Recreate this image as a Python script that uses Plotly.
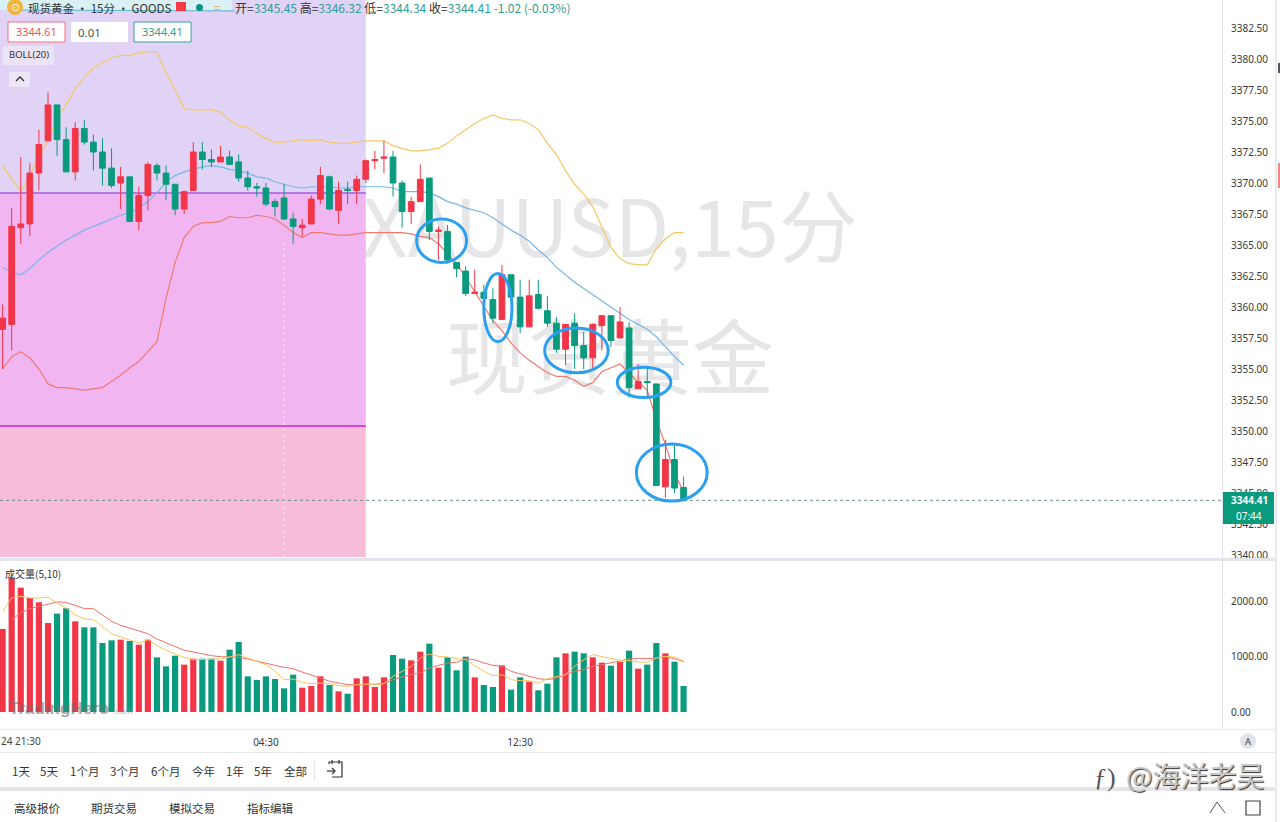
import plotly.graph_objects as go

W, H = 1280, 822

# ---------- data ----------
candle_top = [3359.1,3366.5,3366.7,3370.8,3373.1,3376.3,3376.3,3373.5,3374.4,3374.4,3373.3,3372.5,3371.2,3370.5,3370.5,3369.0,3371.5,3371.4,3370.8,3369.9,
 3369.3,3372.5,3372.5,3371.9,3372.1,3372.1,3371.7,3370.4,3369.7,3369.6,3368.5,3368.8,3367.1,3366.6,3368.7,3370.6,3370.5,3369.4,3369.5,3370.3,
 3371.8,3371.9,3372.1,3372.1,3370.0,3368.5,3370.3,3370.4,3366.2,3366.1,3363.6,3362.9,3361.2,3361.2,3360.6,3362.6,3362.6,3360.8,3360.9,3361.0,
 3359.7,3358.7,3358.6,3358.7,3356.9,3358.6,3359.3,3359.3,3358.8,3358.3,3354.0,3354.0,3353.8,3347.7,3347.7,3345.45]
candle_bottom = [3358.2,3358.6,3366.4,3366.7,3370.8,3373.4,3373.5,3370.9,3370.9,3373.3,3372.5,3371.2,3369.8,3370.0,3366.9,3366.9,3369.0,3370.8,3369.9,3367.9,
 3367.9,3369.4,3371.9,3371.7,3371.7,3371.5,3370.4,3369.7,3369.6,3368.3,3368.1,3367.1,3366.5,3366.4,3366.7,3368.7,3367.9,3367.8,3369.4,3369.4,
 3370.3,3371.8,3372.0,3370.0,3367.7,3367.7,3368.5,3366.1,3366.1,3363.8,3363.1,3361.1,3361.1,3360.7,3359.1,3359.0,3360.8,3358.4,3358.4,3359.9,
 3358.7,3356.6,3356.6,3356.9,3355.9,3355.9,3358.5,3357.3,3357.5,3353.5,3353.4,3353.9,3345.6,3345.5,3345.4,3344.41]
candle_high = [3360.2,3368.0,3372.1,3371.6,3374.3,3377.3,3376.3,3374.5,3374.9,3375.1,3373.9,3373.6,3372.8,3371.3,3370.5,3369.7,3371.7,3371.6,3371.4,3369.9,
 3369.4,3373.3,3373.3,3372.7,3373.0,3372.6,3372.3,3371.0,3370.0,3370.0,3368.7,3369.9,3367.6,3367.1,3369.0,3371.3,3370.6,3370.1,3370.1,3370.6,
 3371.9,3372.6,3373.4,3372.6,3370.2,3368.9,3371.5,3370.4,3366.5,3366.6,3363.6,3363.3,3363.0,3361.8,3361.5,3363.4,3362.6,3362.2,3362.2,3362.2,
 3360.9,3359.2,3358.6,3359.5,3358.0,3358.7,3359.3,3359.3,3360.0,3358.8,3355.4,3355.2,3353.8,3349.3,3348.9,3346.32]
candle_low = [3355.0,3356.5,3365.1,3365.7,3369.4,3373.4,3372.2,3370.9,3370.2,3373.1,3371.0,3369.8,3369.6,3367.9,3366.9,3366.2,3367.8,3370.2,3368.6,3367.4,
 3367.5,3369.4,3371.1,3371.3,3371.7,3371.5,3370.1,3369.4,3368.9,3368.1,3367.3,3367.0,3365.1,3365.7,3366.7,3368.3,3367.8,3366.7,3368.3,3368.3,
 3370.0,3371.1,3370.8,3368.9,3366.4,3366.7,3368.5,3365.4,3363.8,3363.5,3362.4,3360.9,3361.1,3360.7,3358.7,3359.0,3360.8,3357.9,3358.4,3359.8,
 3358.4,3356.3,3355.3,3355.0,3355.0,3355.0,3356.5,3356.8,3357.5,3352.7,3353.4,3352.8,3345.6,3344.6,3345.0,3344.34]
candle_up = [1,1,1,1,1,1,0,0,1,0,0,0,0,1,0,1,1,0,0,0,
 1,1,0,0,1,0,0,0,0,0,0,0,0,1,1,1,0,1,0,1,
 1,1,1,0,0,1,1,0,1,0,0,0,1,0,0,1,0,0,1,0,
 0,0,1,0,0,1,1,0,1,0,1,0,0,1,0,0]

boll_upper = [3371.4,3370.4,3369.3,3370.6,3372.2,3373.4,3375.2,3376.3,3377.6,3378.5,3379.3,3379.7,3380.1,3380.3,3380.3,3380.5,3380.6,3380.6,3378.9,3377.5,
 3376.0,3375.9,3375.9,3375.9,3375.7,3375.1,3374.6,3374.5,3374.0,3373.6,3373.3,3373.3,3373.4,3373.5,3373.4,3373.5,3373.3,3373.2,3373.2,3373.3,
 3373.4,3373.4,3373.4,3373.0,3372.8,3372.6,3372.6,3372.7,3372.8,3373.2,3373.8,3374.3,3374.8,3375.2,3375.5,3375.2,3375.1,3375.1,3374.8,3374.3,
 3373.2,3372.3,3371.0,3369.9,3369.1,3368.1,3366.4,3364.8,3363.9,3363.5,3363.4,3363.4,3364.7,3365.5,3366.0,3366.0]
boll_mid = [3363.2,3362.8,3362.6,3363.1,3363.8,3364.4,3364.9,3365.4,3365.8,3366.2,3366.5,3366.8,3367.1,3367.4,3367.6,3368.0,3368.5,3369.2,3370.1,3370.6,
 3370.9,3371.1,3371.3,3371.4,3371.3,3371.1,3371.0,3370.8,3370.5,3370.4,3370.1,3369.9,3369.7,3369.6,3369.7,3369.7,3369.7,3369.6,3369.6,3369.7,
 3369.7,3369.7,3369.7,3369.6,3369.3,3369.3,3369.3,3369.2,3368.9,3368.5,3368.3,3368.0,3367.8,3367.6,3367.2,3366.7,3366.2,3365.8,3365.3,3364.6,
 3364.0,3363.2,3362.6,3362.0,3361.5,3361.0,3360.5,3360.0,3359.5,3359.0,3358.6,3358.2,3357.6,3356.8,3356.0,3355.3]
boll_lower = [3355.0,3356.0,3356.4,3355.9,3355.0,3353.8,3353.5,3353.5,3353.4,3353.3,3353.4,3353.5,3354.0,3354.5,3355.1,3355.6,3356.4,3357.2,3360.7,3363.6,
 3365.6,3366.5,3366.8,3366.8,3366.9,3367.3,3367.2,3367.2,3367.4,3367.3,3367.1,3366.6,3366.0,3365.6,3366.0,3366.0,3365.9,3365.8,3365.8,3365.9,
 3366.0,3366.0,3366.0,3366.0,3366.0,3365.9,3365.7,3365.6,3365.1,3364.3,3363.5,3362.4,3361.2,3360.0,3358.9,3358.1,3357.1,3356.3,3355.7,3355.2,
 3354.7,3354.4,3354.4,3354.1,3353.6,3353.9,3354.8,3355.1,3355.4,3354.7,3353.9,3353.3,3350.9,3348.9,3346.6,3345.1]

volume = [1509,2436,2260,2073,1994,1618,1788,1885,1648,1539,1539,1254,1303,1315,1291,1224,1315,994,830,1024,
 861,970,970,970,933,1133,1273,648,582,648,600,430,679,442,473,648,491,376,333,612,
 648,455,630,1036,970,939,1097,1242,806,994,758,1006,630,491,455,848,406,630,551,394,
 515,994,1067,1097,1067,994,897,842,909,1115,788,861,1254,1067,915,473]
vol_ma5 = [1830,2073,2103,2073,2073,2085,1982,1891,1770,1691,1679,1557,1424,1364,1303,1254,1315,1206,1121,1054,
 994,951,951,964,964,1000,1042,982,921,861,739,588,600,539,515,527,515,479,467,497,
 509,497,515,648,739,830,982,1054,1012,1000,970,951,842,739,661,679,588,570,570,527,
 606,636,679,830,951,1042,1012,976,939,933,909,903,982,1012,1000,921]
vol_ma10 = [None,1679,1800,1879,1921,1970,2000,1994,1939,1879,1879,1770,1648,1576,1521,1479,1424,1327,1254,1182,
 1121,1091,1054,1024,1006,1000,994,964,921,891,848,812,788,727,679,618,558,521,497,491,
 497,497,515,588,636,679,709,800,848,891,903,970,951,891,848,830,739,697,661,606,
 588,618,679,739,770,830,861,891,933,964,976,970,982,1000,970,915]

price_ticks = [3340,3342.5,3345,3347.5,3350,3352.5,3355,3357.5,3360,3362.5,3365,3367.5,3370,3372.5,3375,3377.5,3380,3382.5]
volume_ticks = [0,1000,2000]
time_ticks = [29,57]
time_labels = ["04:30","12:30"]
range_buttons = ["1天","5天","1个月","3个月","6个月","今年","1年","5年","全部"]
range_button_px = [21,49,84,124,165,203,235,263,295]
bottom_tabs = ["高级报价","期货交易","模拟交易","指标编辑"]
bottom_tab_px = [37,114,192,270]

last_price = 3344.41
zone_upper_price = 3369.2
zone_lower_price = 3350.4
zone_end_bar = 40
# circled areas: bar from, bar to, price from, price to
circles = [(45.6,51.1,3363.6,3367.1),(53.0,56.1,3357.2,3362.7),(59.7,66.7,3354.7,3358.3),
           (67.7,73.6,3352.7,3355.15),(69.8,77.6,3344.35,3348.95)]

# ---------- derived ----------
bars = list(range(len(candle_top)))
opens  = [b if u else t for t,b,u in zip(candle_top,candle_bottom,candle_up)]
closes = [t if u else b for t,b,u in zip(candle_top,candle_bottom,candle_up)]

RED, GREEN = "#f23547", "#0a9a7e"
FONT = "Noto Sans CJK SC"
NUM = "Noto Sans"

X_RANGE = [-0.286, 134.3]
Y_RANGE = [3339.84, 3384.76]
V_RANGE = [-309, 2745]

def px(x): return x / W
def py(y): return 1 - y / H

shapes, annos = [], []

def rect(x0, y0, x1, y1, fill, line=None, lw=1, layer="above"):
    shapes.append(dict(type="rect", xref="paper", yref="paper", x0=px(x0), x1=px(x1), y0=py(y0), y1=py(y1),
                       fillcolor=fill, line=dict(color=line or "rgba(0,0,0,0)", width=lw if line else 0), layer=layer))

def seg(points, color, lw=1, layer="above", close=False):
    d = "M " + " L ".join(f"{px(a):.5f} {py(b):.5f}" for a, b in points) + (" Z" if close else "")
    shapes.append(dict(type="path", xref="paper", yref="paper", path=d, line=dict(color=color, width=lw), layer=layer))

def txt(x, y, s, size=11, color="#333333", anchor="center", family=FONT, **kw):
    annos.append(dict(xref="paper", yref="paper", x=px(x), y=py(y), text=s, showarrow=False, xanchor=anchor, yanchor="middle",
                      font=dict(size=size, color=color, family=family), borderpad=0, **kw))

# zones below everything
for y0, y1, col in [(zone_upper_price, Y_RANGE[1], "#e0d3f6"), (zone_lower_price, zone_upper_price, "#f1b6f2"), (Y_RANGE[0], zone_lower_price, "#f7bdd8")]:
    shapes.append(dict(type="rect", xref="x", yref="y", x0=X_RANGE[0], x1=zone_end_bar, y0=y0, y1=y1, fillcolor=col, line=dict(width=0), layer="below"))
# watermark, real text under the candles
for y0, y1, t, s in [(195, 275, "XAUUSD,15分", 79), (325, 405, "现货黄金", 82)]:
    shapes.append(dict(type="rect", xref="paper", yref="paper", x0=px(340), x1=px(880), y0=py(y1), y1=py(y0), fillcolor="rgba(0,0,0,0)",
                       line=dict(width=0), layer="below",
                       label=dict(text=t, textposition="middle center", font=dict(size=s, color="#e6e6e9", family=FONT))))
shapes.append(dict(type="line", xref="x", yref="y", x0=X_RANGE[0], x1=zone_end_bar, y0=zone_upper_price, y1=zone_upper_price, line=dict(color="#a45be0", width=1.5), layer="below"))
shapes.append(dict(type="line", xref="x", yref="y", x0=X_RANGE[0], x1=zone_end_bar, y0=zone_lower_price, y1=zone_lower_price, line=dict(color="#cc22cc", width=1.5), layer="below"))
shapes.append(dict(type="line", xref="x", yref="y", x0=31, x1=31, y0=Y_RANGE[0], y1=3365.4, line=dict(color="rgba(255,255,255,0.55)", width=1, dash="dot"), layer="below"))
shapes.append(dict(type="line", xref="x", yref="y", x0=X_RANGE[0], x1=X_RANGE[1], y0=last_price, y1=last_price, line=dict(color="#6b8f88", width=1, dash="dot"), layer="below"))

# circles
for a, b, c, d in circles:
    shapes.append(dict(type="circle", xref="x", yref="y", x0=a, x1=b, y0=c, y1=d, line=dict(color="#2b9ff0", width=3), layer="above"))

# frame / bands
rect(0, 558, 1276, 561, "#e3e4ec")
rect(0, 729, 1276, 730, "#eaebf0")
rect(0, 752, 1276, 753, "#e6e7ec")
rect(0, 787, 1276, 791, "#e4e4ea")
rect(1275, 0, 1277, 822, "#e9e9f2")
rect(1278, 63, 1280, 73, "#555555")
rect(1278, 163, 1280, 188, "#f08a80")
rect(314, 760, 315, 781, "#e6e7ec")

# header
rect(0, 0, 232, 10, "#d9f1f4")
seg([(20, 10), (235, 11)], "#59b9c9", 1)
shapes.append(dict(type="circle", xref="paper", yref="paper", x0=px(7), x1=px(23), y0=py(15), y1=py(-1), fillcolor="#f2b53c", line=dict(width=0), layer="above"))
txt(15, 7, "⊙", 9, "#ffffff")
txt(27, 8, "现货黄金 • 15分 • GOODS", 11.5, "#333333", "left")
rect(176, 2, 186, 11, "#f33a45")
shapes.append(dict(type="circle", xref="paper", yref="paper", x0=px(196), x1=px(203), y0=py(11), y1=py(4), fillcolor="#0a8f80", line=dict(width=0), layer="above"))
txt(217, 7, "=", 11, "#e59a4a")
TEAL = '<span style="color:#2f9e94">%s</span>'
txt(234, 8, "开=" + TEAL % "3345.45" + " 高=" + TEAL % "3346.32" + " 低=" + TEAL % "3344.34" + " 收=" + TEAL % "3344.41" + " " + TEAL % "-1.02 (-0.03%)", 12, "#333333", "left")

# price chips
rect(8, 22, 65, 42, "#ffffff", "#f2727a")
txt(36.5, 32, "3344.61", 11, "#f2555f", family=NUM)
rect(71, 22, 128, 42, "#ffffff")
txt(89, 32.5, "0.01", 11.5, "#555555", family=NUM)
rect(134, 22, 191, 42, "#ffffff", "#3a9fa3")
txt(162.5, 32, "3344.41", 11, "#2f9e94", family=NUM)
rect(3, 46, 54, 65, "#ebe4f6")
txt(28.5, 54, "BOLL(20)", 9.5, "#333333", family=NUM)
rect(9, 72, 30, 87, "#ece6f6")
seg([(16, 81), (20, 77), (24, 81)], "#333333", 1.3)

# volume pane texts
txt(4, 573, "成交量(5,10)", 10, "#333333", "left")
txt(8, 708, "TradingHero", 17, "#6f6f6f", "left", family="Liberation Sans", opacity=0.6)
annos[-1]["font"]["weight"] = "bold"
txt(112, 711, ".com", 9, "#8a8a8a", "left", family="Liberation Sans", opacity=0.6)
txt(0, 741, "24 21:30", 10, "#444444", "left", family=NUM)
shapes.append(dict(type="circle", xref="paper", yref="paper", x0=px(1240), x1=px(1256), y0=py(749), y1=py(733), fillcolor="#e2e3ea", line=dict(width=0), layer="above"))
txt(1248, 741, "A", 9.5, "#444444", family=NUM)

# toolbar
for p, t in zip(range_button_px, range_buttons):
    txt(p, 771, t, 11.5, "#333333")
seg([(329, 764), (329, 762), (342, 762), (342, 777), (332, 777)], "#333333", 1.2)
seg([(332, 760), (332, 764)], "#333333", 1.2)
seg([(339, 760), (339, 764)], "#333333", 1.2)
seg([(327, 771), (335, 771)], "#333333", 1.2)
seg([(332, 768), (335, 771), (332, 774)], "#333333", 1.2)
for p, t in zip(bottom_tab_px, bottom_tabs):
    txt(p, 808, t, 11.5, "#333333")
seg([(1210, 813), (1217, 802), (1225, 813)], "#555555", 1)
shapes.append(dict(type="rect", xref="paper", yref="paper", x0=px(1246), x1=px(1260), y0=py(815), y1=py(801), line=dict(color="#444444", width=1.2), layer="above"))

# overlay watermark bottom right
txt(1105, 777, "ƒ)", 26, "#555555", family="Liberation Serif")
txt(1195, 775, "@海洋老吴", 28, "#c8c8c8")
annos[-1]["font"]["shadow"] = "1px 1px 1px #333333"

# last price tag
rect(1223, 492, 1274, 524, GREEN)
txt(1249, 500, "3344.41", 10, "#ffffff", family=NUM)
annos[-1]["font"]["weight"] = "bold"
txt(1249, 516, "07:44", 10, "#ffffff", family=NUM)

fig = go.Figure()
fig.add_trace(go.Scatter(x=bars, y=boll_upper, mode="lines", line=dict(color="#f4c865", width=1.2), xaxis="x", yaxis="y", hoverinfo="skip"))
fig.add_trace(go.Scatter(x=bars, y=boll_mid, mode="lines", line=dict(color="#79b6e6", width=1.2), xaxis="x", yaxis="y", hoverinfo="skip"))
fig.add_trace(go.Scatter(x=bars, y=boll_lower, mode="lines", line=dict(color="#ee7a70", width=1.2), xaxis="x", yaxis="y", hoverinfo="skip"))
fig.add_trace(go.Candlestick(x=bars, open=opens, high=candle_high, low=candle_low, close=closes,
                             increasing=dict(line=dict(color=RED, width=1), fillcolor=RED),
                             decreasing=dict(line=dict(color=GREEN, width=1), fillcolor=GREEN),
                             xaxis="x", yaxis="y3"))
fig.add_trace(go.Bar(x=bars, y=volume, width=0.68, marker=dict(color=[RED if u else GREEN for u in candle_up], line=dict(width=0)), xaxis="x", yaxis="y2"))
fig.add_trace(go.Scatter(x=bars, y=vol_ma10, mode="lines", line=dict(color="#f0706a", width=1), xaxis="x", yaxis="y2", hoverinfo="skip"))
fig.add_trace(go.Scatter(x=bars, y=vol_ma5, mode="lines", line=dict(color="#fdc45f", width=1), xaxis="x", yaxis="y2", hoverinfo="skip"))

tick_font = dict(size=10, color="#3a3a3a", family=NUM)
fig.update_layout(
    width=W, height=H, margin=dict(l=0, r=0, t=0, b=0, autoexpand=False), showlegend=False, paper_bgcolor="#ffffff", plot_bgcolor="#ffffff",
    shapes=shapes, annotations=annos,
    xaxis=dict(domain=[0, 1222 / W], range=X_RANGE, anchor="y2", showgrid=False, zeroline=False, rangeslider=dict(visible=False),
               tickmode="array", tickvals=time_ticks, ticktext=time_labels, tickfont=tick_font, ticks="outside", ticklen=4,
               tickcolor="rgba(0,0,0,0)", showline=False),
    yaxis=dict(domain=[py(557), 1], range=Y_RANGE, anchor="x", side="right", showgrid=False, zeroline=False, showline=True, linecolor="#e0e3eb",
               tickmode="array", tickvals=price_ticks, ticktext=[f"{v:.2f}" for v in price_ticks], tickfont=tick_font,
               ticks="outside", ticklen=6, tickcolor="rgba(0,0,0,0)"),
    yaxis2=dict(domain=[py(729), py(561)], range=V_RANGE, anchor="x", side="right", showgrid=False, zeroline=False, showline=True, linecolor="#e0e3eb",
                tickmode="array", tickvals=volume_ticks, ticktext=[f"{v:.2f}" for v in volume_ticks], tickfont=tick_font,
                ticks="outside", ticklen=6, tickcolor="rgba(0,0,0,0)"),
    yaxis3=dict(range=Y_RANGE, overlaying="y", anchor="x", side="right", visible=False),
    bargap=0.3, boxgap=0.1, boxgroupgap=0.3,
)
fig.write_html("out.html", config={"displayModeBar": False}, post_script="document.body.style.margin='0';document.body.style.overflow='hidden';")
